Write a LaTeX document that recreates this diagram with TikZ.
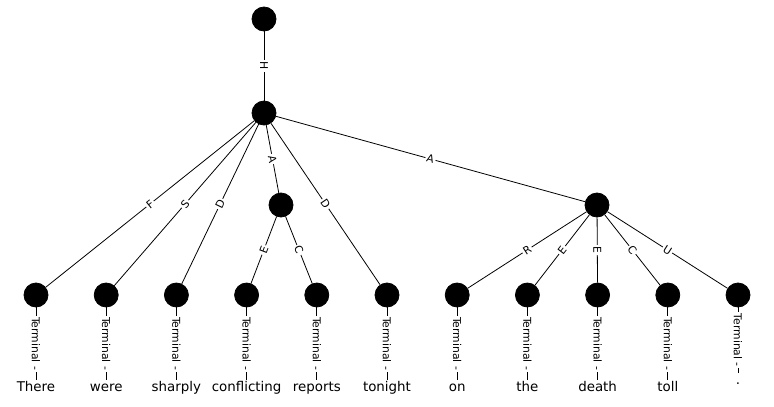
\documentclass[tikz,border=0pt]{standalone}
\usepackage{fontspec}
\setmainfont{DejaVu Sans}

\begin{document}
\begin{tikzpicture}[x=1pt, y=-1pt,
        main/.style = {draw, circle, fill=black, minimum size=24pt, inner sep=0pt},
        lab/.style = {fill=white, inner sep=1.5pt, font=\fontsize{10.8}{12}\selectfont},
        word/.style = {inner sep=1pt, text height=10pt, text depth=3pt, font=\fontsize{13.4}{15}\selectfont},
        node distance={70.2pt}, line width=0.8pt]
        \useasboundingbox (0,0) rectangle (774,407);
        \node[main] (r) at (264,19) {};
        \node[main] (p) at (264,113) {};
        \node[main] (a) at (281,205) {};
        \node[main] (b) at (597,205) {};
        \node[main] (t1) at (36,295) {};
        \node[main] (t2) [right of=t1] {};
        \node[main] (t3) [right of=t2] {};
        \node[main] (t4) [right of=t3] {};
        \node[main] (t5) [right of=t4] {};
        \node[main] (t6) [right of=t5] {};
        \node[main] (t7) [right of=t6] {};
        \node[main] (t8) [right of=t7] {};
        \node[main] (t9) [right of=t8] {};
        \node[main] (t10) [right of=t9] {};
        \node[main] (t11) [right of=t10] {};
        \node[word] (w1) [below of=t1, yshift=-22.5pt] {There};
        \node[word] (w2) [below of=t2, yshift=-22.5pt] {were};
        \node[word] (w3) [below of=t3, yshift=-22.5pt] {sharply};
        \node[word] (w4) [below of=t4, yshift=-22.5pt] {conflicting};
        \node[word] (w5) [below of=t5, yshift=-22.5pt] {reports};
        \node[word] (w6) [below of=t6, yshift=-22.5pt] {tonight};
        \node[word] (w7) [below of=t7, yshift=-22.5pt] {on};
        \node[word] (w8) [below of=t8, yshift=-22.5pt] {the};
        \node[word] (w9) [below of=t9, yshift=-22.5pt] {death};
        \node[word] (w10) [below of=t10, yshift=-22.5pt] {toll};
        \node[word] (w11) [below of=t11, yshift=-16pt] {.};
        \draw (r) -- (p) node[midway, sloped, lab] {H};
        \draw (p) -- (t1) node[midway, sloped, lab] {F};
        \draw (p) -- (t2) node[midway, sloped, lab] {S};
        \draw (p) -- (t3) node[midway, sloped, lab] {D};
        \draw (p) -- (a) node[midway, sloped, lab] {A};
        \draw (p) -- (t6) node[midway, sloped, lab] {D};
        \draw (p) -- (b) node[midway, sloped, lab] {A};
        \draw (a) -- (t4) node[midway, sloped, lab] {E};
        \draw (a) -- (t5) node[midway, sloped, lab] {C};
        \draw (b) -- (t7) node[midway, sloped, lab] {R};
        \draw (b) -- (t8) node[midway, sloped, lab] {E};
        \draw (b) -- (t9) node[midway, sloped, lab] {E};
        \draw (b) -- (t10) node[midway, sloped, lab] {C};
        \draw (b) -- (t11) node[midway, sloped, lab] {U};
        \draw (t1) -- (w1) node[midway, sloped, lab] {Terminal -};
        \draw (t2) -- (w2) node[midway, sloped, lab] {Terminal -};
        \draw (t3) -- (w3) node[midway, sloped, lab] {Terminal -};
        \draw (t4) -- (w4) node[midway, sloped, lab] {Terminal -};
        \draw (t5) -- (w5) node[midway, sloped, lab] {Terminal -};
        \draw (t6) -- (w6) node[midway, sloped, lab] {Terminal -};
        \draw (t7) -- (w7) node[midway, sloped, lab] {Terminal -};
        \draw (t8) -- (w8) node[midway, sloped, lab] {Terminal -};
        \draw (t9) -- (w9) node[midway, sloped, lab] {Terminal -};
        \draw (t10) -- (w10) node[midway, sloped, lab] {Terminal -};
        \draw (t11) -- (w11) node[midway, sloped, lab] {Terminal -};
    \end{tikzpicture}
\end{document}
